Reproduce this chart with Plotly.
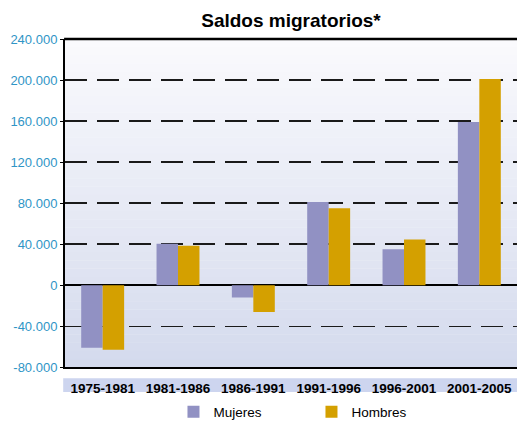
import plotly.graph_objects as go

# --- data ---
PERIODS = ["1975-1981", "1981-1986", "1986-1991", "1991-1996", "1996-2001", "2001-2005"]
MUJERES = [-61000, 40500, -12000, 81000, 35000, 159000]
HOMBRES = [-63000, 38500, -26000, 75000, 44500, 201000]
Y_TICKS = [-80000, -40000, 0, 40000, 80000, 120000, 160000, 200000, 240000]
Y_LABELS = ["-80.000", "-40.000", "0", "40.000", "80.000", "120.000", "160.000", "200.000", "240.000"]
BOUNDARIES = [0.5, 1.5, 2.5, 3.5, 4.5]

COLORS = {"mujeres": "#9191c3", "hombres": "#d4a000", "tick": "#2f95c6", "band": "#cdd5ef"}
FONT = "Liberation Sans, Arial, sans-serif"

fig = go.Figure()
fig.add_trace(go.Bar(x=PERIODS, y=MUJERES, name="Mujeres", marker_color=COLORS["mujeres"],
                     marker_line_width=0))
fig.add_trace(go.Bar(x=PERIODS, y=HOMBRES, name="Hombres", marker_color=COLORS["hombres"],
                     marker_line_width=0))

# background gradient: white at top, pale lavender at bottom
N = 40
top, bot = (250, 250, 253), (212, 218, 237)
for i in range(N):
    t = (i + 0.5) / N
    c = tuple(round(top[k] + (bot[k] - top[k]) * t) for k in range(3))
    fig.add_shape(type="rect", xref="paper", yref="paper", x0=0, x1=1,
                  y0=1 - (i + 1) / N, y1=1 - i / N + 0.001,
                  fillcolor=f"rgb{c}", line_width=0, layer="below")

# lavender band behind the category labels
fig.add_shape(type="rect", xref="paper", yref="paper", x0=-0.004, x1=1,
              y0=-0.075, y1=-0.033, fillcolor=COLORS["band"], line_width=0, layer="below")
# solid frame line along the top of the plot
fig.add_shape(type="line", xref="paper", yref="paper", x0=-0.002, x1=1, y0=1, y1=1,
              line=dict(color="black", width=2.5))

fig.update_layout(
    width=517, height=421,
    margin=dict(l=65, r=0, t=39, b=49),
    paper_bgcolor="white",
    plot_bgcolor="rgba(0,0,0,0)",
    font=dict(family=FONT, color="black"),
    title=dict(text="<b>Saldos migratorios*</b>", x=0.5, xref="paper", y=1 - 20 / 421, yanchor="middle",
               font=dict(size=19, color="black")),
    barmode="group", bargap=0.43, bargroupgap=0,
    showlegend=True,
    legend=dict(orientation="h", x=0.24, xanchor="left", yref="container", y=1 - 412 / 421,
                yanchor="middle", font=dict(size=13.5), entrywidth=93, bgcolor="rgba(0,0,0,0)"),
    xaxis=dict(showline=True, linecolor="black", linewidth=2, ticks="",
               tickfont=dict(size=13.5, color="black", weight="bold"), ticklabelstandoff=8,
               showgrid=False),
    # short ticks hanging below the zero line at the category boundaries
    xaxis2=dict(overlaying="x", anchor="free", position=0.25, range=[-0.5, 5.5],
                tickvals=BOUNDARIES, ticks="outside", ticklen=4, tickwidth=1.5,
                tickcolor="black", showticklabels=False, showline=False, showgrid=False,
                zeroline=False),
    yaxis=dict(range=[-80000, 240000], tickvals=Y_TICKS, ticktext=Y_LABELS,
               tickfont=dict(size=13, color=COLORS["tick"]),
               showline=True, linecolor="black", linewidth=2, mirror=False,
               ticks="outside", ticklen=3, tickcolor="black",
               showgrid=True, gridcolor="#1a1a1a", gridwidth=1.5, griddash="22px,10px",
               zeroline=True, zerolinecolor="black", zerolinewidth=2),
)

fig.write_html("out.html", config={"staticPlot": True, "displayModeBar": False},
               post_script="document.body.style.margin='0px';document.body.style.overflow='hidden';")
